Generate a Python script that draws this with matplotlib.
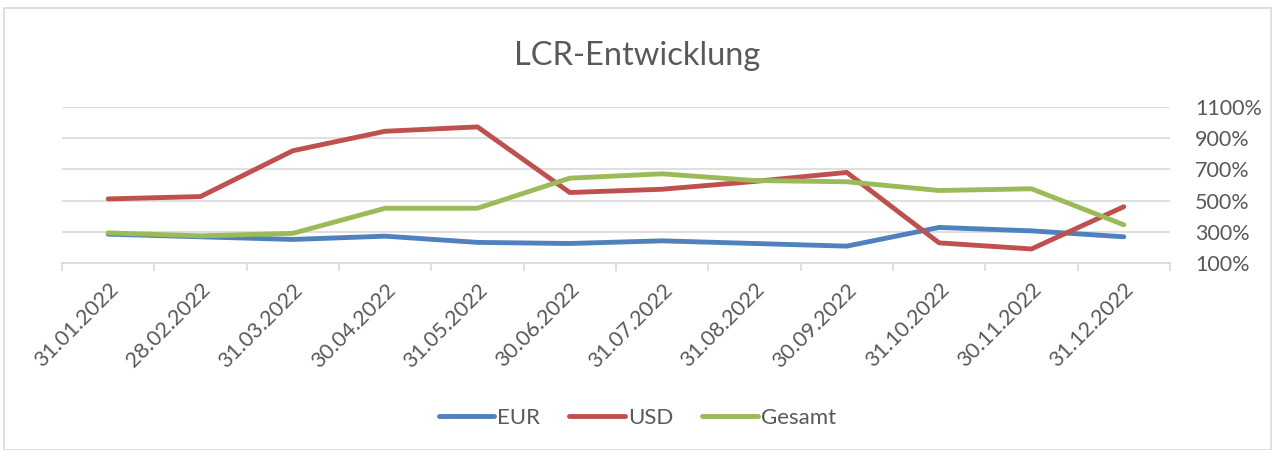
import matplotlib.pyplot as plt
import numpy as np
from matplotlib.patches import Rectangle

dates = [
    "31.01.2022", "28.02.2022", "31.03.2022", "30.04.2022", "31.05.2022", "30.06.2022",
    "31.07.2022", "31.08.2022", "30.09.2022", "31.10.2022", "30.11.2022", "31.12.2022",
]
eur = [285, 268, 251, 272, 232, 225, 242, 225, 208, 328, 306, 268]
usd = [511, 526, 820, 945, 973, 552, 573, 623, 681, 229, 190, 461]
gesamt = [293, 274, 290, 451, 451, 644, 672, 629, 621, 565, 576, 345]
yticks = [100, 300, 500, 700, 900, 1100]

text_col = "#595959"
grid_col = "#d9d9d9"
plt.rcParams["font.family"] = ["Lato", "DejaVu Sans"]

fig = plt.figure(figsize=(12.75, 4.5), dpi=100)
fig.patches.append(
    Rectangle((0.003, 0.0), 0.994, 0.982, transform=fig.transFigure,
              fill=False, edgecolor=grid_col, linewidth=1.2)
)
ax = fig.add_axes([0.0486, 0.4156, 0.869, 0.3464])

x = np.arange(len(dates))
ax.plot(x, eur, color="#4F81BD", lw=3.5, label="EUR", solid_capstyle="round")
ax.plot(x, usd, color="#C0504D", lw=3.5, label="USD", solid_capstyle="round")
ax.plot(x, gesamt, color="#9BBB59", lw=3.5, label="Gesamt", solid_capstyle="round")

ax.set_xlim(-0.5, len(dates) - 0.5)
ax.set_ylim(100, 1100)
ax.set_yticks(yticks)
ax.set_yticklabels([f"{v}%" for v in yticks])
ax.yaxis.tick_right()
ax.tick_params(axis="y", length=0, pad=18, labelsize=15.5, labelcolor=text_col)
ax.grid(axis="y", color=grid_col, lw=1.2)
ax.set_axisbelow(True)

ax.set_xticks(x)
ax.set_xticklabels(dates, rotation=45, ha="right", rotation_mode="anchor")
ax.set_xticks(np.arange(-0.5, len(dates)), minor=True)
ax.tick_params(axis="x", which="major", length=0, pad=12, labelsize=15.5, labelcolor=text_col)
ax.tick_params(axis="x", which="minor", length=6, color=grid_col, width=1.2)

for side in ["top", "left", "right"]:
    ax.spines[side].set_visible(False)
ax.spines["bottom"].set_color(grid_col)
ax.spines["bottom"].set_linewidth(1.2)

fig.text(0.5, 0.875, "LCR-Entwicklung", ha="center", va="center",
         fontsize=23.5, color=text_col)

fig.legend(loc="center", bbox_to_anchor=(0.5, 0.072), ncol=3, frameon=False,
           fontsize=16, labelcolor=text_col, handlelength=2.5, handletextpad=0.15,
           columnspacing=1.3)

fig.savefig("out.png", dpi=100)
